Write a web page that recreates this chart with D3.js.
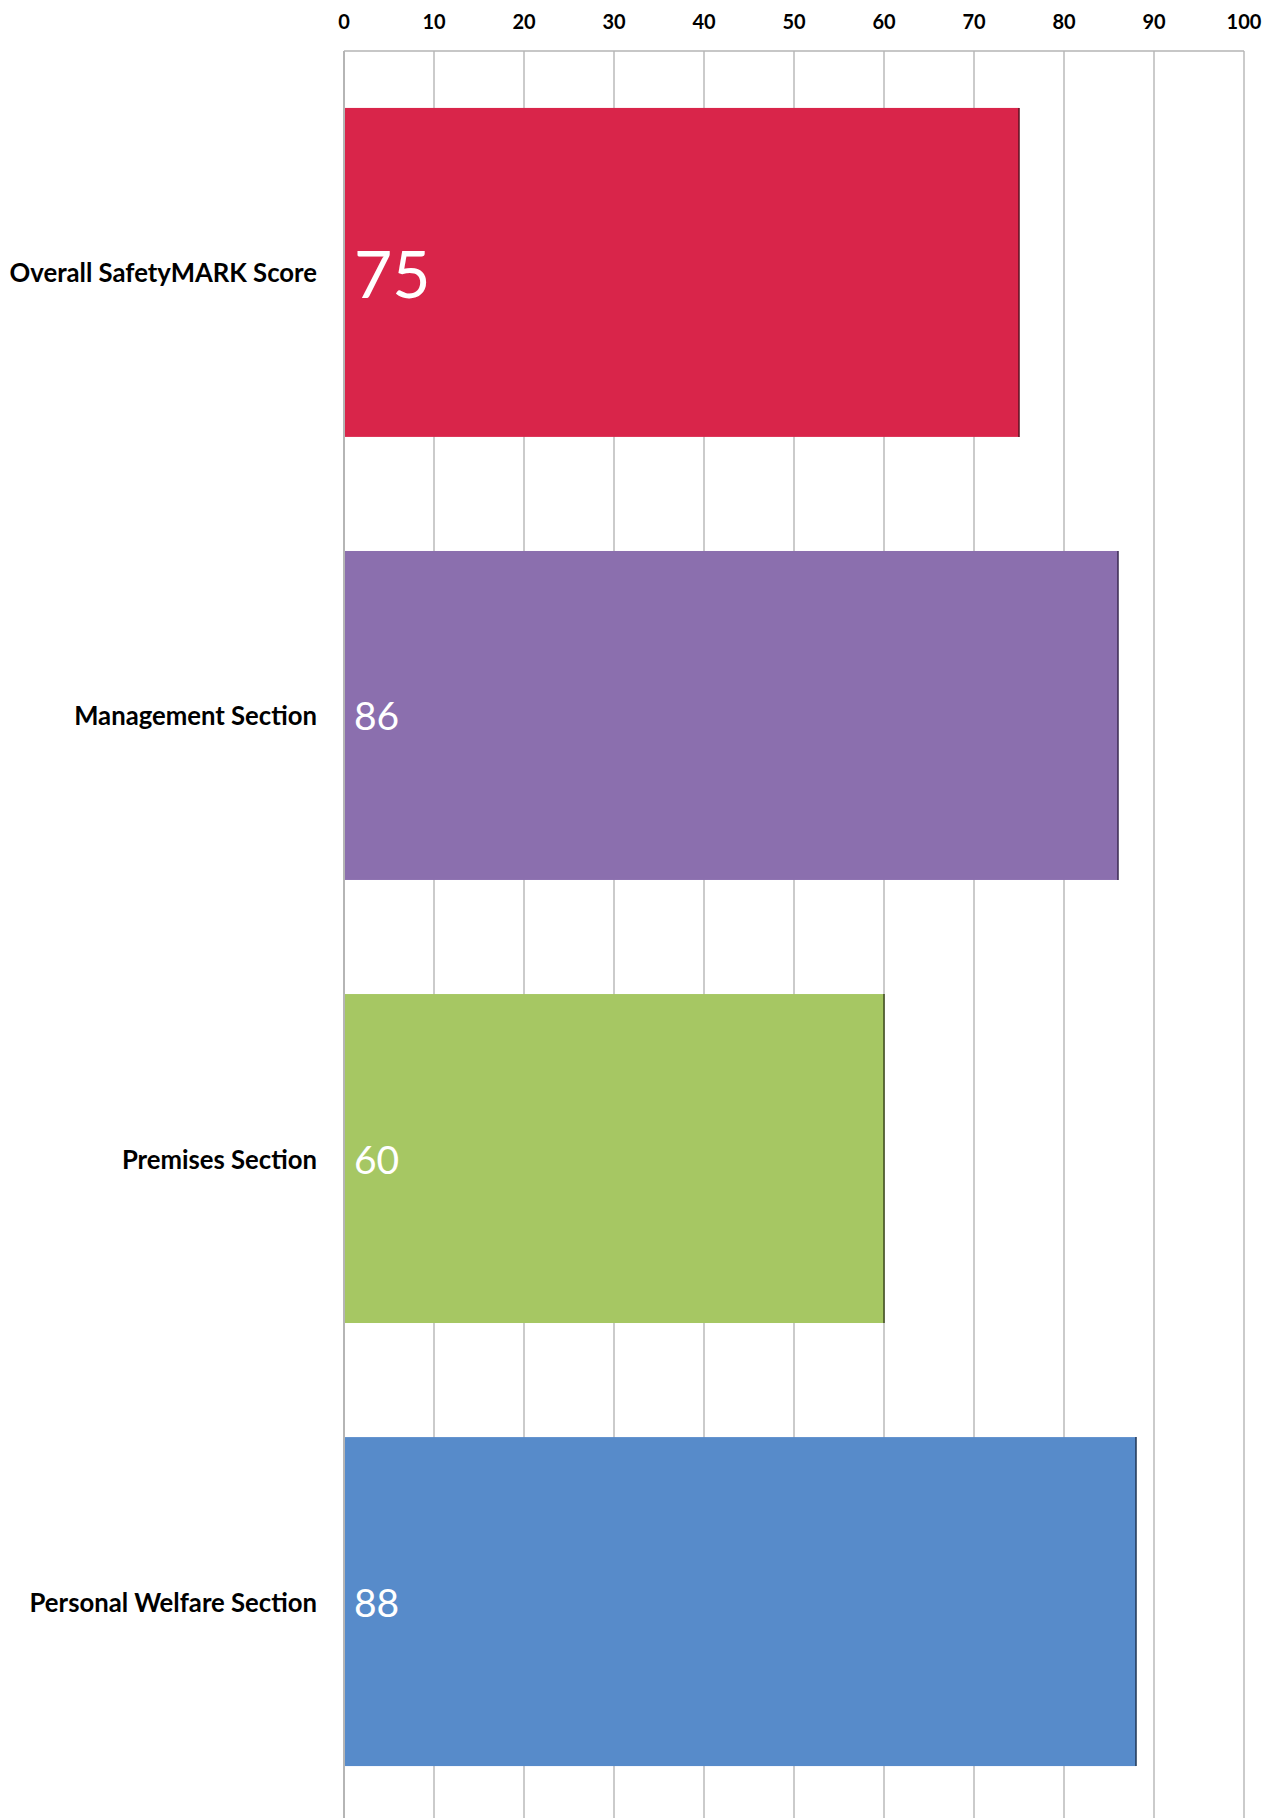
<!DOCTYPE html>
<html>
<head>
<meta charset="utf-8">
<script src="https://cdn.jsdelivr.net/npm/d3@7"></script>
<style>
  body { margin: 0; background: #fff; }
  svg { display: block; font-family: Lato, "Open Sans", sans-serif; }
</style>
</head>
<body>
<div id="chart"></div>
<script>
// data
const categories = ["Overall SafetyMARK Score", "Management Section", "Premises Section", "Personal Welfare Section"];
const scores = [75, 86, 60, 88];
const barColors = ["#D9254A", "#8B6FAE", "#A6C763", "#578BCA"];
const edgeColors = ["#5a1020", "#3a2a50", "#3d4a1e", "#1f3654"];
const ticks = [0, 10, 20, 30, 40, 50, 60, 70, 80, 90, 100];

const width = 1274, height = 1818;
const margin = {top: 51, left: 344, right: 30};

const svg = d3.select("#chart").append("svg")
    .attr("width", width)
    .attr("height", height);

const x = d3.scaleLinear()
    .domain([0, 100])
    .range([margin.left, margin.left + 900]);

const y = d3.scaleBand()
    .domain(categories)
    .range([margin.top, 1823])
    .paddingInner(0.2575)
    .paddingOuter(0.1285);

const data = categories.map((c, i) => ({cat: c, val: scores[i], i: i}));

// gridlines
svg.append("g")
    .selectAll("line")
    .data(ticks)
    .enter()
    .append("line")
    .attr("x1", d => x(d))
    .attr("x2", d => x(d))
    .attr("y1", margin.top)
    .attr("y2", height)
    .attr("stroke", "#b5b5b5")
    .attr("stroke-width", d => d === 0 ? 2 : 1.4);

// top border
svg.append("line")
    .attr("x1", x(0))
    .attr("x2", x(100))
    .attr("y1", margin.top)
    .attr("y2", margin.top)
    .attr("stroke", "#b5b5b5")
    .attr("stroke-width", 1.6);

// tick labels on top
svg.append("g")
    .selectAll("text")
    .data(ticks)
    .enter()
    .append("text")
    .attr("x", d => x(d))
    .attr("y", 21)
    .attr("text-anchor", "middle")
    .attr("dominant-baseline", "central")
    .style("font-size", "20px")
    .style("font-weight", "bold")
    .style("fill", "#000")
    .text(d => d);

// bars
const bars = svg.append("g")
    .selectAll("g")
    .data(data)
    .enter()
    .append("g");

bars.append("rect")
    .attr("x", x(0) + 1)
    .attr("y", d => y(d.cat))
    .attr("width", d => x(d.val) - x(0) - 1)
    .attr("height", y.bandwidth())
    .attr("fill", d => barColors[d.i]);

// dark right edge
bars.append("line")
    .attr("x1", d => x(d.val))
    .attr("x2", d => x(d.val))
    .attr("y1", d => y(d.cat))
    .attr("y2", d => y(d.cat) + y.bandwidth())
    .attr("stroke", d => edgeColors[d.i])
    .attr("stroke-width", 1.5);

// value labels
bars.append("text")
    .attr("x", x(0) + 10)
    .attr("y", d => y(d.cat) + y.bandwidth() / 2)
    .attr("dominant-baseline", "central")
    .style("fill", "#fff")
    .style("font-size", d => d.i === 0 ? "66px" : "39px")
    .text(d => d.val);

// category labels
svg.append("g")
    .selectAll("text")
    .data(data)
    .enter()
    .append("text")
    .attr("x", 317)
    .attr("y", d => y(d.cat) + y.bandwidth() / 2)
    .attr("text-anchor", "end")
    .attr("dominant-baseline", "central")
    .style("font-size", "25.7px")
    .style("font-weight", "bold")
    .style("fill", "#000")
    .text(d => d.cat);
</script>
</body>
</html>
